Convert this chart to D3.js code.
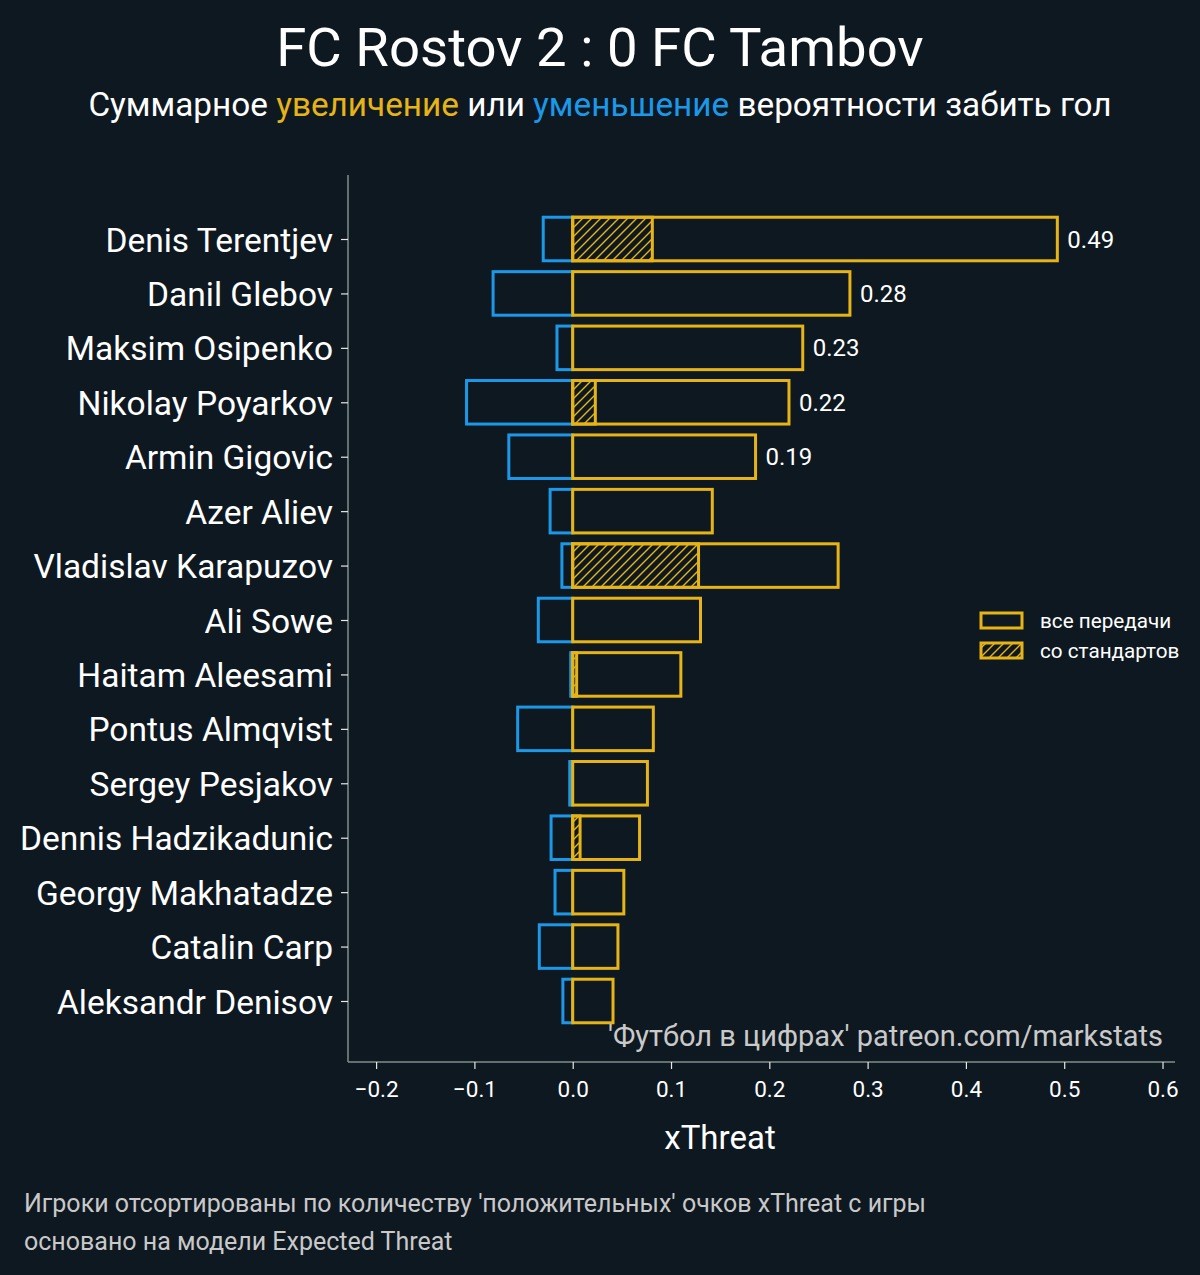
<!DOCTYPE html>
<html>
<head>
<meta charset="utf-8">
<script src="https://cdn.jsdelivr.net/npm/d3@7"></script>
<style>
  body { margin: 0; background: #0e1821; }
  text { font-family: Roboto, "Noto Sans", sans-serif; }
</style>
</head>
<body>
<div id="chart"></div>
<script>
// data
var players = ["Denis Terentjev", "Danil Glebov", "Maksim Osipenko", "Nikolay Poyarkov",
  "Armin Gigovic", "Azer Aliev", "Vladislav Karapuzov", "Ali Sowe", "Haitam Aleesami",
  "Pontus Almqvist", "Sergey Pesjakov", "Dennis Hadzikadunic", "Georgy Makhatadze",
  "Catalin Carp", "Aleksandr Denisov"];
var positive = [0.493, 0.282, 0.234, 0.220, 0.186, 0.142, 0.270, 0.130, 0.110,
  0.082, 0.076, 0.068, 0.052, 0.046, 0.041];
var negative = [-0.030, -0.081, -0.016, -0.108, -0.065, -0.023, -0.011, -0.035, -0.002,
  -0.056, -0.003, -0.022, -0.018, -0.034, -0.010];
var setPieces = [0.081, 0, 0, 0.023, 0, 0, 0.128, 0, 0.004, 0, 0, 0.0075, 0, 0, 0];
var valueLabels = ["0.49", "0.28", "0.23", "0.22", "0.19", "", "", "", "", "", "", "", "", "", ""];
var xTicks = [-0.2, -0.1, 0.0, 0.1, 0.2, 0.3, 0.4, 0.5, 0.6];

var rows = players.map(function(p, i) {
  return {name: p, pos: positive[i], neg: negative[i], set: setPieces[i], label: valueLabels[i]};
});

var W = 1200, H = 1275;
var yellow = "#e6b416", blue = "#1b98e8", bg = "#0e1821", spine = "#7f8f8a";

var svg = d3.select("#chart").append("svg")
  .attr("width", W).attr("height", H);

svg.append("rect").attr("width", W).attr("height", H).attr("fill", bg);

// hatch pattern for set pieces
var defs = svg.append("defs");
var pat = defs.append("pattern")
  .attr("id", "hatch")
  .attr("patternUnits", "userSpaceOnUse")
  .attr("width", 9).attr("height", 9);
pat.append("path")
  .attr("d", "M-2,2 l4,-4 M0,9 l9,-9 M7,11 l4,-4")
  .attr("stroke", yellow).attr("stroke-width", 1.4);

var x = d3.scaleLinear()
  .domain([-0.2286, 0.6127])
  .range([348, 1175]);

var y = d3.scalePoint()
  .domain(players)
  .range([239, 1001]);

var barH = y.step() * 0.8;

// spines
svg.append("line").attr("x1", 348).attr("x2", 348).attr("y1", 175).attr("y2", 1062)
  .attr("stroke", spine).attr("stroke-width", 1.5);
svg.append("line").attr("x1", 348).attr("x2", 1175).attr("y1", 1062).attr("y2", 1062)
  .attr("stroke", spine).attr("stroke-width", 1.5);

// x axis
var xAxis = svg.append("g")
  .attr("transform", "translate(0,1062)")
  .call(d3.axisBottom(x).tickValues(xTicks).tickFormat(d3.format(".1f")).tickSize(7).tickSizeOuter(0));
xAxis.select(".domain").remove();
xAxis.selectAll("line").attr("stroke", "#e8e8e8").attr("stroke-width", 1.2);
xAxis.selectAll("text")
  .attr("fill", "white").style("font-size", "22.5px")
  .attr("dy", "1.1em")
  .text(function(d) { return d3.format(".1f")(d).replace("-", "\u2212"); });

// y axis
var yAxis = svg.append("g")
  .attr("transform", "translate(348,0)")
  .call(d3.axisLeft(y).tickSize(7).tickSizeOuter(0));
yAxis.select(".domain").remove();
yAxis.selectAll("line").attr("stroke", "#e8e8e8").attr("stroke-width", 1.2);
yAxis.selectAll("text")
  .attr("fill", "white").style("font-size", "33.5px")
  .attr("x", -15).attr("dy", "0.36em");

// negative bars
svg.append("g").selectAll("rect")
  .data(rows).enter().append("rect")
  .attr("x", function(d) { return x(d.neg); })
  .attr("y", function(d) { return y(d.name) - barH / 2; })
  .attr("width", function(d) { return x(0) - x(d.neg); })
  .attr("height", barH)
  .attr("fill", "none").attr("stroke", blue).attr("stroke-width", 3);

// positive bars
svg.append("g").selectAll("rect")
  .data(rows).enter().append("rect")
  .attr("x", x(0))
  .attr("y", function(d) { return y(d.name) - barH / 2; })
  .attr("width", function(d) { return x(d.pos) - x(0); })
  .attr("height", barH)
  .attr("fill", bg).attr("stroke", yellow).attr("stroke-width", 3);

// set-piece bars (hatched)
svg.append("g").selectAll("rect")
  .data(rows.filter(function(d) { return d.set > 0; })).enter().append("rect")
  .attr("x", x(0))
  .attr("y", function(d) { return y(d.name) - barH / 2; })
  .attr("width", function(d) { return x(d.set) - x(0); })
  .attr("height", barH)
  .attr("fill", "url(#hatch)").attr("stroke", yellow).attr("stroke-width", 3);

// value labels
svg.append("g").selectAll("text")
  .data(rows.filter(function(d) { return d.label; })).enter().append("text")
  .attr("x", function(d) { return x(d.pos) + 10; })
  .attr("y", function(d) { return y(d.name); })
  .attr("dy", "0.36em")
  .attr("fill", "white").style("font-size", "24px")
  .text(function(d) { return d.label; });

// legend
var legend = [{t: "все передачи", fill: bg}, {t: "со стандартов", fill: "url(#hatch)"}];
legend.forEach(function(l, i) {
  svg.append("rect")
    .attr("x", 981).attr("y", 613 + i * 30)
    .attr("width", 41).attr("height", 15)
    .attr("fill", l.fill).attr("stroke", yellow).attr("stroke-width", 3);
  svg.append("text")
    .attr("x", 1040).attr("y", 621 + i * 30)
    .attr("dy", "0.36em")
    .attr("fill", "white").style("font-size", "20.7px")
    .text(l.t);
});

// watermark
svg.append("text")
  .attr("x", 1163).attr("y", 1046)
  .attr("text-anchor", "end")
  .attr("fill", "#c9c9c9").style("font-size", "29px")
  .text("'Футбол в цифрах' patreon.com/markstats");

// axis title
svg.append("text")
  .attr("x", 720).attr("y", 1149)
  .attr("text-anchor", "middle")
  .attr("fill", "white").style("font-size", "33px")
  .text("xThreat");

// title
svg.append("text")
  .attr("x", 600).attr("y", 66)
  .attr("text-anchor", "middle")
  .attr("fill", "white").style("font-size", "54.5px")
  .text("FC Rostov 2 : 0 FC Tambov");

var sub = svg.append("text")
  .attr("x", 600).attr("y", 116)
  .attr("text-anchor", "middle")
  .attr("fill", "white").style("font-size", "33.3px");
sub.append("tspan").text("Суммарное ");
sub.append("tspan").attr("fill", yellow).text("увеличение");
sub.append("tspan").text(" или ");
sub.append("tspan").attr("fill", blue).text("уменьшение");
sub.append("tspan").text(" вероятности забить гол");

// footer
svg.append("text")
  .attr("x", 24).attr("y", 1212)
  .attr("fill", "#c9c9c9").style("font-size", "25px")
  .text("Игроки отсортированы по количеству 'положительных' очков xThreat с игры");
svg.append("text")
  .attr("x", 24).attr("y", 1250)
  .attr("fill", "#c9c9c9").style("font-size", "25px")
  .text("основано на модели Expected Threat");
</script>
</body>
</html>
